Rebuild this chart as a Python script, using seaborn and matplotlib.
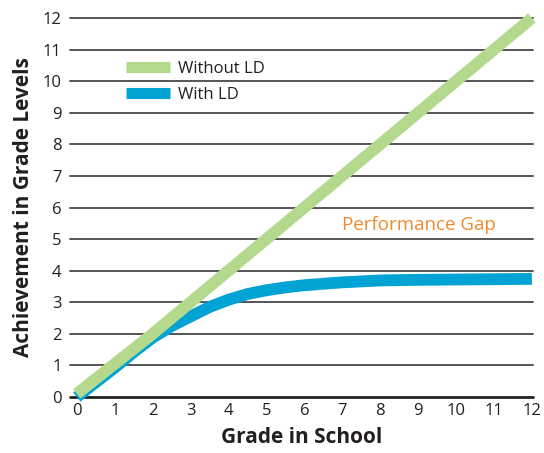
import matplotlib
matplotlib.use("Agg")
import matplotlib.pyplot as plt
import seaborn as sns
import pandas as pd

grades_without = [0, 1, 2, 3, 4, 5, 6, 7, 8, 9, 10, 11, 12]
without_ld = [0.1, 1.05, 2.0, 3.0, 4.0, 5.0, 6.0, 7.0, 8.0, 9.0, 10.0, 11.0, 12.0]
grades_with = [0, 1, 1.5, 2, 2.5, 3, 3.5, 4, 4.5, 5, 5.5, 6, 7, 8, 9, 10, 11, 12]
with_ld = [0.0, 0.93, 1.42, 1.88, 2.25, 2.55, 2.85, 3.08, 3.26, 3.38, 3.47, 3.54, 3.63, 3.69, 3.71, 3.72, 3.73, 3.74]
x_ticks = list(range(0, 13))
y_ticks = list(range(0, 13))
series_names = ["Without LD", "With LD"]
colors = {"Without LD": "#b5d98c", "With LD": "#00a3d4"}

df = pd.concat([
    pd.DataFrame({"Grade": grades_without, "Level": without_ld, "Group": series_names[0]}),
    pd.DataFrame({"Grade": grades_with, "Level": with_ld, "Group": series_names[1]}),
])

sns.set_theme(style="white")
plt.rcParams['font.family'] = ['Open Sans', 'DejaVu Sans']

fig = plt.figure(figsize=(5.44, 4.53), dpi=100)
ax = fig.add_axes([70/544, 56/453, (533-70)/544, (397-18)/453])

for y in y_ticks:
    ax.axhline(y, color="#555555" if y else "#222222", lw=1.4 if y else 2.0, zorder=1, clip_on=False)

sns.lineplot(data=df[df.Group == "With LD"], x="Grade", y="Level", color=colors["With LD"],
             lw=8.5, ax=ax, zorder=3, solid_capstyle="butt", solid_joinstyle="round", legend=False)
sns.lineplot(data=df[df.Group == "Without LD"], x="Grade", y="Level", color=colors["Without LD"],
             lw=8.5, ax=ax, zorder=4, solid_capstyle="butt", legend=False)
for l in ax.lines:
    l.set_clip_on(False)

ax.set_xlim(-0.18, 12.03)
ax.set_ylim(0, 12)
ax.set_xticks(x_ticks)
ax.set_yticks(y_ticks)
ax.tick_params(axis="both", length=0, labelsize=12, colors="#231f20")
ax.tick_params(axis="y", pad=6)
ax.tick_params(axis="x", pad=4)
for s in ax.spines.values():
    s.set_visible(False)

ax.set_xlabel("Grade in School", fontsize=15, fontweight="bold", color="#231f20", labelpad=6)
ax.set_ylabel("Achievement in Grade Levels", fontsize=15, fontweight="bold", color="#231f20", labelpad=6)

handles = [plt.Line2D([], [], color=colors[n], lw=8, solid_capstyle="butt") for n in series_names]
leg = ax.legend(handles, series_names, loc="upper left", bbox_to_anchor=(0.089, 0.927),
                frameon=False, fontsize=12, handlelength=2.65, handletextpad=0.45,
                labelspacing=0.62, labelcolor="#231f20")

ax.text(7.0, 5.45, "Performance Gap", color="#f08a30", fontsize=13.5, va="center", ha="left")

fig.savefig("out.png", dpi=100)
